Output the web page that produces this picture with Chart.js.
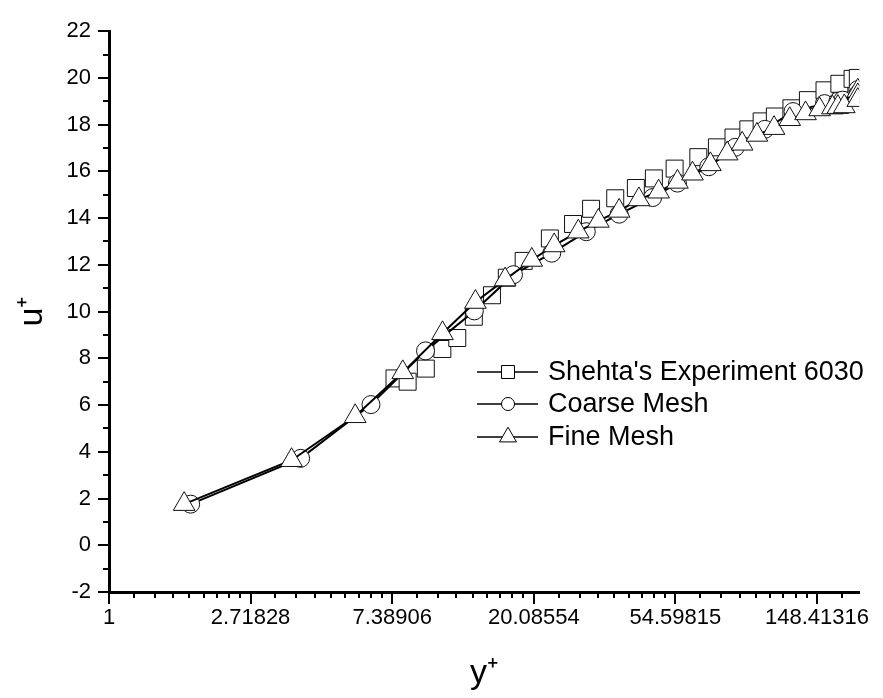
<!DOCTYPE html>
<html>
<head>
<meta charset="utf-8">
<title>u+ vs y+</title>
<script src="https://cdn.jsdelivr.net/npm/chart.js@4.4.1/dist/chart.umd.min.js"></script>
<style>
  html, body { margin: 0; padding: 0; background: #fff; }
  canvas { display: block; }
</style>
</head>
<body>
<canvas id="mainChart" width="883" height="698"></canvas>
<script>
const FONT = "'Liberation Sans', Arial, Helvetica, sans-serif";

// x axis: powers of e, printed the way the plotting package printed them
const xTickLabels = ['1', '2.71828', '7.38906', '20.08554', '54.59815', '148.41316'];
const xTickValues = xTickLabels.map(Number);

// Shehta's experiment 6030
const expY = [7.51, 8.24, 9.37, 10.53, 11.70, 13.15, 14.95, 16.6, 18.7, 22.5, 26.5, 30.1, 35.7, 41.3,
              46.9, 54.3, 64.2, 73.2, 82.3, 91.4, 100.4, 110.2, 123.9, 139.2, 156.5, 173.8, 190.8, 198];
const expU = [7.14, 7.0, 7.56, 8.4, 8.87, 9.78, 10.7, 11.45, 12.17, 13.13, 13.75, 14.4, 14.85, 15.29,
              15.7, 16.12, 16.61, 17.03, 17.45, 17.8, 18.14, 18.35, 18.7, 19.05, 19.47, 19.75, 19.96, 20.0];

// coarse mesh solution
const coarseY = [1.78, 3.87, 6.36, 9.35, 13.2, 17.4, 22.8, 29.1, 36.7, 46.5, 55.4, 69.1, 83.3, 102.7,
                 125.3, 156.5, 172, 198, 178, 198];
const coarseU = [1.76, 3.72, 6.02, 8.32, 10.03, 11.58, 12.5, 13.42, 14.17, 14.88, 15.5, 16.2, 17.03, 17.8,
                 18.56, 18.9, 19.0, 19.5, 19.05, 19.3];

// fine mesh solution
const fineY = [1.70, 3.63, 5.69, 7.96, 10.54, 13.3, 16.4, 19.8, 23.2, 27.5, 31.7, 36.7, 42.2, 48.5, 55.4,
               61.6, 69.9, 78.7, 87.5, 97.1, 109.6, 122.4, 136.9, 151.2, 165.5, 198, 172, 198, 180, 198];
const fineU = [1.76, 3.64, 5.52, 7.40, 9.07, 10.41, 11.37, 12.21, 12.83, 13.42, 13.88, 14.31, 14.80, 15.13, 15.55,
               15.9, 16.3, 16.76, 17.18, 17.56, 17.85, 18.23, 18.48, 18.65, 18.73, 19.45, 18.75, 19.25, 18.78, 19.05];

const toPoints = (xs, ys) => xs.map((x, i) => ({ x, y: ys[i] }));

const legendItems = [
    { label: "Shehta's Experiment 6030", style: 'rect', radius: 9.2 },
    { label: 'Coarse Mesh', style: 'circle', radius: 6.5 },
    { label: 'Fine Mesh', style: 'triangle', radius: 9.8 },
];

// Origin-style ticks: long majors, 8 linear minors between each pair of majors
const axisTicks = {
    id: 'axisTicks',
    afterDraw(chart) {
        const { ctx, chartArea, scales: { x, y } } = chart;
        const line = (x1, y1, x2, y2) => {
            ctx.beginPath();
            ctx.moveTo(x1, y1);
            ctx.lineTo(x2, y2);
            ctx.stroke();
        };
        ctx.save();
        ctx.strokeStyle = '#000';
        ctx.lineWidth = 2;
        const bottom = chartArea.bottom;
        const left = chartArea.left;
        xTickValues.forEach((v, i) => {
            const px = Math.round(x.getPixelForValue(v));
            line(px, bottom, px, bottom + 12);
            const next = i + 1 < xTickValues.length ? xTickValues[i + 1] : v * Math.E;
            for (let k = 1; k < 9; k++) {
                const mv = v + k * (next - v) / 9;
                if (mv > x.max) break;
                const mp = Math.round(x.getPixelForValue(mv));
                line(mp, bottom, mp, bottom + 6);
            }
        });
        for (let v = y.min; v <= y.max; v++) {
            const py = Math.round(y.getPixelForValue(v));
            line(left, py, left - (v % 2 === 0 ? 11 : 6), py);
        }
        ctx.restore();
    }
};

// legend sits inside the plot, below the curves
const insideLegend = {
    id: 'insideLegend',
    afterDraw(chart) {
        const { ctx } = chart;
        const x0 = 477, xMark = 508, x1 = 538, xText = 548;
        const rows = [372, 404, 437];
        ctx.save();
        ctx.font = `27px ${FONT}`;
        ctx.textBaseline = 'middle';
        ctx.textAlign = 'left';
        legendItems.forEach((item, i) => {
            const yy = rows[i];
            ctx.strokeStyle = '#000';
            ctx.lineWidth = 1.5;
            ctx.beginPath();
            ctx.moveTo(x0, yy);
            ctx.lineTo(x1, yy);
            ctx.stroke();
            ctx.fillStyle = '#fff';
            ctx.lineWidth = 1;
            Chart.helpers.drawPoint(ctx, { pointStyle: item.style, radius: item.radius, rotation: 0, borderWidth: 1 }, xMark, yy);
            ctx.fillStyle = '#000';
            ctx.fillText(item.label, xText, yy + 1);
        });
        ctx.restore();
    }
};

const tickFont = { family: FONT, size: 22 };
const titleFont = { family: FONT, size: 34 };

new Chart(document.getElementById('mainChart'), {
    type: 'scatter',
    data: {
        datasets: [{
            label: 'Fine Mesh',
            data: toPoints(fineY, fineU),
            showLine: true,
            borderColor: '#000',
            borderWidth: 2,
            pointStyle: 'triangle',
            pointRadius: 12.5,
            pointBorderWidth: 1,
            pointBorderColor: '#111',
            pointBackgroundColor: '#fff',
            order: 0,
        }, {
            label: 'Coarse Mesh',
            data: toPoints(coarseY, coarseU),
            showLine: true,
            borderColor: '#000',
            borderWidth: 2,
            pointStyle: 'circle',
            pointRadius: 9,
            pointBorderWidth: 1,
            pointBorderColor: '#111',
            pointBackgroundColor: '#fff',
            order: 1,
        }, {
            label: "Shehta's Experiment 6030",
            data: toPoints(expY, expU),
            showLine: false,
            pointStyle: 'rect',
            pointRadius: 12,
            pointBorderWidth: 1,
            pointBorderColor: '#111',
            pointBackgroundColor: '#fff',
            order: 2,
        }]
    },
    options: {
        responsive: false,
        animation: false,
        devicePixelRatio: 1,
        layout: { padding: { top: 15, right: 18, left: 0, bottom: 0 } },
        plugins: {
            legend: { display: false },
            tooltip: { enabled: false },
        },
        scales: {
            x: {
                type: 'logarithmic',
                min: 1,
                max: 200,
                afterBuildTicks: (scale) => {
                    scale.ticks = xTickValues.map(v => ({ value: v }));
                },
                afterFit: (scale) => { scale.height = 106; },
                ticks: {
                    autoSkip: false,
                    maxRotation: 0,
                    padding: 13,
                    color: '#000',
                    font: tickFont,
                    callback: (val, i) => xTickLabels[i],
                },
                grid: { display: false, drawTicks: false },
                border: { display: true, color: '#000', width: 3 },
                title: { display: true, text: 'y⁺', color: '#000', font: titleFont, padding: { top: 0, bottom: 4 } },
            },
            y: {
                min: -2,
                max: 22,
                afterFit: (scale) => { scale.width = 109; },
                ticks: { stepSize: 2, padding: 18, color: '#000', font: tickFont },
                grid: { display: false, drawTicks: false },
                border: { display: true, color: '#000', width: 3 },
                title: { display: true, text: 'u⁺', color: '#000', font: titleFont, padding: { top: 12, bottom: 0 } },
            }
        }
    },
    plugins: [axisTicks, insideLegend],
});
</script>
</body>
</html>
